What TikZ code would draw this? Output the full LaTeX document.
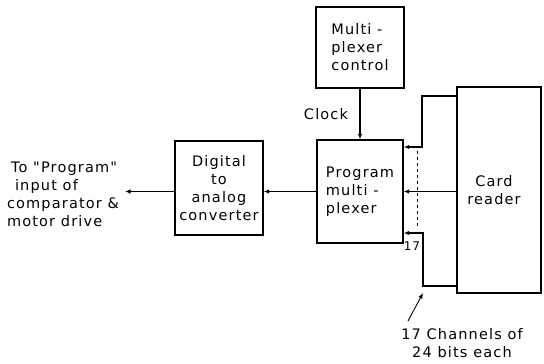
\documentclass[tikz,border=0pt]{standalone}
\usepackage{fontspec}
\setmainfont[LetterSpace=8,Ligatures=TeXOff]{DejaVu Sans}
\usetikzlibrary{arrows.meta,positioning}

\begin{document}
\begin{tikzpicture}[x=1pt,y=-1pt,>={Latex[length=5.5pt,width=4.5pt]},line width=1.4pt,
    every node/.style={font=\fontsize{14.5}{18}\selectfont},
    block/.style={draw,line width=1.4pt,inner sep=0pt,align=center}]
  \useasboundingbox (0,0) rectangle (544,364);
  \node[block,minimum width=88pt,minimum height=81pt,align=left] (ctrl) at (360,47.5) {Multi -\\plexer\\control};
  \node[block,minimum width=86pt,minimum height=103pt,align=left] (mux) at (360,191.5) {Program\\multi -\\plexer};
  \node[block,minimum width=88pt,minimum height=94pt] (dac) at (219,188) {Digital\\to\\analog\\converter};
  \node[block,minimum width=84pt,minimum height=206pt] (reader) at (499,190) {Card\hspace*{10pt}\\reader\hspace*{10pt}};
  \draw[->] (ctrl) -- (mux);
  \node (clk) at (326,114) {Clock};
  \draw[->] (mux.west) -- (mux.west -| dac.east);
  \coordinate (out) at (125,191.5);
  \draw[->] (out -| dac.west) -- (out);
  \node[align=left,anchor=west] (dest) at (3,194) {\hspace{4pt}To "Program"\\\hspace{8pt}input of\\comparator \&\\motor drive};
  % channels from the card reader
  \coordinate (jtop) at (422,96);
  \coordinate (ja) at (422,147);
  \coordinate (jb) at (423,233);
  \coordinate (jbot) at (423,286);
  \draw[->] (jtop -| reader.west) -- (jtop) -- (ja) -- (ja -| mux.east);
  \draw[->] (reader.west |- mux.east) -- (mux.east);
  \draw[->] (jbot -| reader.west) -- (jbot) -- (jb) -- (jb -| mux.east);
  \draw[dashed,line width=0.8pt] (417,151) -- (417,229);
  \node[font=\fontsize{12}{14}\selectfont] (n17) at (412,246) {17};
  \node[align=center] (note) at (462,343) {17 Channels of\\24 bits each};
  \coordinate (tail) at (408,321);
  \coordinate (tip) at (423,293);
  \draw[->,line width=0.9pt] (tail) -- (tip);
\end{tikzpicture}
\end{document}
